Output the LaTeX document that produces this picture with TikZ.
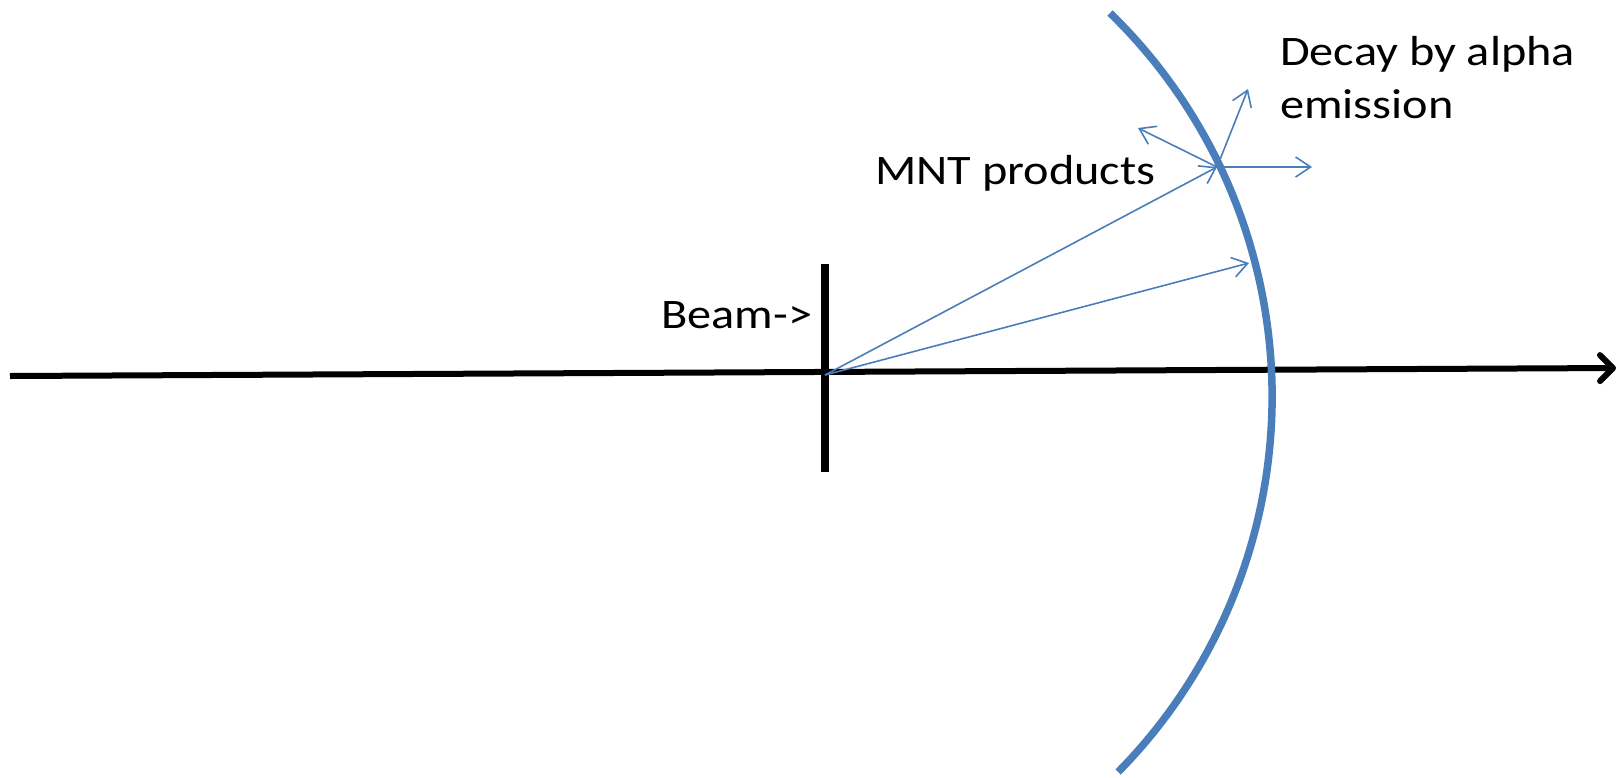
\documentclass[tikz,border=0pt]{standalone}
\usepackage{fontspec}
\setmainfont{Carlito}[FakeStretch=1.15]
\usetikzlibrary{arrows.meta}
\definecolor{pblue}{RGB}{74,126,187}
\tikzset{
  axisline/.style={line width=6pt, black},
  beamline/.style={line width=7.5pt, black},
  detector/.style={line width=7.5pt, pblue},
  ray/.style={line width=1.6pt, pblue, -{Straight Barb[length=15pt,width=20pt]}},
  lbl/.style={inner sep=0pt, anchor=base west, font=\fontsize{42}{53}\selectfont}
}
\begin{document}
\begin{tikzpicture}[x=1pt,y=1pt]
\useasboundingbox (0,0) rectangle (1624,-777);
% coordinates
\coordinate (axL) at (10,-376);
\coordinate (axR) at (1616,-368);
\coordinate (vT) at (825,-264);
\coordinate (vB) at (825,-472);
\coordinate (O) at (825,-375);
\coordinate (P) at (1217,-167);
\coordinate (Q) at (1249,-263);
\coordinate (UL) at (1138,-128);
\coordinate (UR) at (1248,-89);
\coordinate (R) at (1312,-167);
\coordinate (arcTop) at (1110,-13);
% black axis and target
\draw[axisline, -{Straight Barb[length=13pt,width=26pt,round]}] (axL) -- (axR);
\draw[beamline] (vT) -- (vB);
% detector arc
\draw[detector] (arcTop) arc[start angle=45.82, end angle=-44.6, radius=534.8];
% rays
\draw[ray] (O) -- (P);
\draw[ray] (O) -- (Q);
\draw[ray] (P) -- (UL);
\draw[ray] (P) -- (UR);
\draw[ray] (P) -- (R);
% labels
\node[lbl] (beam) at (661,-328) {Beam->};
\node[lbl] (mnt) at (875,-184) {MNT products};
\node[lbl] (decay1) at (1280,-65) {Decay by alpha};
\node[lbl] (decay2) at (1280,-118) {emission};
\end{tikzpicture}
\end{document}
